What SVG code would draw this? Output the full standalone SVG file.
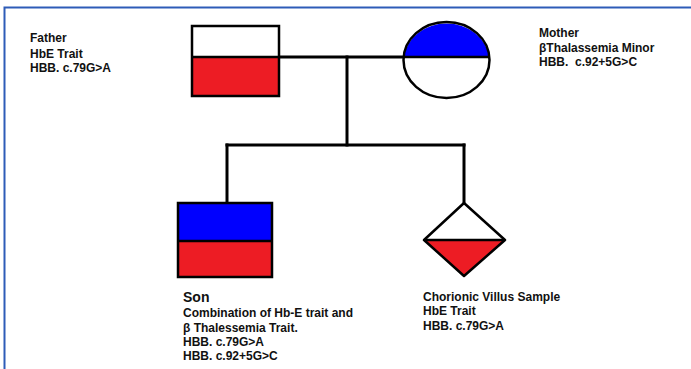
<svg xmlns="http://www.w3.org/2000/svg" width="691" height="369" viewBox="0 0 691 369">
<style>
.t{font-family:"Liberation Sans",Arial,sans-serif;font-size:12px;font-weight:bold;fill:#111}
.s{stroke:#000;stroke-width:2.5;fill:none}
.c{stroke:#000;stroke-width:3;fill:none;stroke-linecap:square}
.red{fill:#ED1C24}
.blue{fill:#0000FF}
</style>
<rect width="691" height="369" fill="#fff"/>
<path d="M4.5,369 V7.5 H691" fill="none" stroke="#2E5CB8" stroke-width="2"/>
<g id="connectors">
<path class="c" d="M279,57 H403"/>
<path class="c" d="M347,57 V145"/>
<path class="c" d="M227,145 H464"/>
<path class="c" d="M227,145 V203"/>
<path class="c" d="M464,145 V203"/>
</g>
<g id="father">
<rect x="192" y="26" width="87" height="31" fill="#fff"/>
<rect x="192" y="57" width="87" height="39" class="red"/>
<rect x="192" y="26" width="87" height="70" class="s"/>
<line x1="192" y1="57" x2="279" y2="57" class="s"/>
<text class="t" x="30" y="42">Father</text>
<text class="t" x="30" y="58">HbE Trait</text>
<text class="t" x="30" y="72">HBB. c.79G&gt;A</text>
</g>
<g id="mother">
<ellipse cx="446.5" cy="60" rx="43" ry="38" fill="#fff"/>
<path d="M403.8,57 A43,38 0 0 1 489.2,57 Z" class="blue"/>
<ellipse cx="446.5" cy="60" rx="43" ry="38" class="s"/>
<line x1="403.5" y1="57" x2="489.5" y2="57" class="s"/>
<text class="t" x="539" y="37">Mother</text>
<text class="t" x="539" y="52">βThalassemia Minor</text>
<text class="t" x="539" y="66">HBB.&#160; c.92+5G&gt;C</text>
</g>
<g id="son">
<rect x="178" y="203" width="94" height="38" class="blue"/>
<rect x="178" y="241" width="94" height="36" class="red"/>
<rect x="178" y="203" width="94" height="74" class="s"/>
<line x1="178" y1="241" x2="273" y2="241" class="s"/>
<text class="t" x="183" y="302" style="font-size:14px">Son</text>
<text class="t" x="183" y="317">Combination of Hb-E trait and</text>
<text class="t" x="183" y="332">β Thalessemia Trait.</text>
<text class="t" x="183" y="346">HBB. c.79G&gt;A</text>
<text class="t" x="183" y="360">HBB. c.92+5G&gt;C</text>
</g>
<g id="cvs">
<path d="M424,240 H505 L464,276 Z" class="red"/>
<path d="M464,203 L505,240 L464,276 L424,240 Z" class="s" stroke-linejoin="round"/>
<line x1="424" y1="240" x2="505" y2="240" class="s"/>
<text class="t" x="423" y="301">Chorionic Villus Sample</text>
<text class="t" x="423" y="315">HbE Trait</text>
<text class="t" x="423" y="330">HBB. c.79G&gt;A</text>
</g>
</svg>
